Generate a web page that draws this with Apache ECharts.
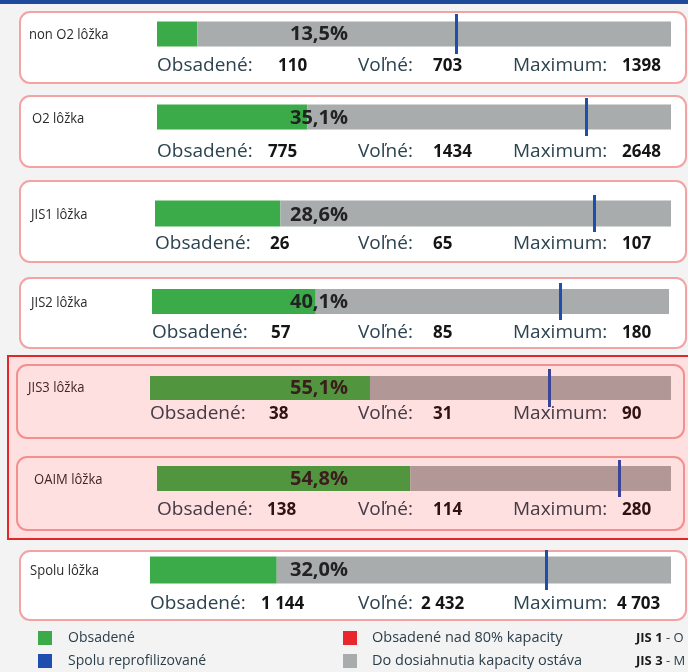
<!DOCTYPE html>
<html>
<head>
<meta charset="utf-8">
<script src="https://cdn.jsdelivr.net/npm/echarts@6/dist/echarts.min.js"></script>
<style>
  html, body { margin: 0; padding: 0; background: #f3f3f3; }
  #chart-container { width: 688px; height: 672px; }
</style>
</head>
<body>
<div id="chart-container"></div>
<script>
var dom = document.getElementById('chart-container');
var myChart = echarts.init(dom, null, { renderer: 'canvas' });

// data
var categories = ['non O2 lôžka', 'O2 lôžka', 'JIS1 lôžka', 'JIS2 lôžka', 'JIS3 lôžka', 'OAIM lôžka', 'Spolu lôžka'];
var occupied = [110, 775, 26, 57, 38, 138, 1144];
var free = [703, 1434, 65, 85, 31, 114, 2432];
var maximum = [1398, 2648, 107, 180, 90, 280, 4703];
var spacedDigits = [false, false, false, false, false, false, true];
var legendLeft = ['Obsadené', 'Spolu reprofilizované'];
var legendRight = ['Obsadené nad 80% kapacity', 'Do dosiahnutia kapacity ostáva'];
var noteLabels = ['JIS 1', 'JIS 3'];
var noteTexts = [' - O', ' - M'];

// layout of each panel: box top/bottom/left/right, bar left/right/top/bottom, marker top/bottom, label x, text row y
var layout = [
  { bt: 12, bb: 83, bx: 20, br: 686, l: 157, r: 671, t: 21, b: 46, mt: 14, mb: 54, lx: 29, ty: 66, nx: 278 },
  { bt: 96, bb: 167, bx: 20, br: 686, l: 157, r: 671, t: 105, b: 130, mt: 98, mb: 136, lx: 32, ty: 152, nx: 268 },
  { bt: 181, bb: 262, bx: 20, br: 686, l: 155, r: 671, t: 201, b: 227, mt: 195, mb: 232, lx: 31, ty: 244, nx: 270 },
  { bt: 278, bb: 348, bx: 20, br: 686, l: 152, r: 669, t: 289, b: 314, mt: 283, mb: 320, lx: 31, ty: 333, nx: 271 },
  { bt: 365, bb: 438, bx: 17, br: 684, l: 150, r: 671, t: 375, b: 399, mt: 369, mb: 407, lx: 28, ty: 414, nx: 269 },
  { bt: 457, bb: 530, bx: 17, br: 684, l: 157, r: 671, t: 466, b: 491, mt: 460, mb: 497, lx: 34, ty: 510, nx: 267 },
  { bt: 551, bb: 620, bx: 20, br: 686, l: 150, r: 671, t: 556, b: 583, mt: 550, mb: 590, lx: 30, ty: 604, nx: 261 }
];

var GREEN = '#3aab48';
var GRAY = '#a8acac';
var BLUE = '#1f4fae';
var FONT = 'Open Sans';

function fmt(v, spaced) {
  var s = String(v);
  if (spaced) s = s.replace(/\B(?=(\d{3})+(?!\d))/g, ' ');
  return s;
}

var grids = [], xAxes = [], yAxes = [], series = [], graphics = [];

graphics.push({ type: 'rect', shape: { x: 0, y: 0, width: 688, height: 4 }, style: { fill: '#1e4a9c' }, z: -5 });

categories.forEach(function (name, i) {
  var p = layout[i];
  var capacity = occupied[i] + free[i];
  grids.push({ left: p.l, top: p.mt, width: p.r - p.l, height: p.mb - p.mt });
  xAxes.push({ type: 'value', gridIndex: i, min: 0, max: maximum[i], show: false });
  yAxes.push({ type: 'category', gridIndex: i, data: [name], show: false });
  series.push({
    type: 'bar', xAxisIndex: i, yAxisIndex: i, stack: 's' + i,
    barWidth: p.b - p.t, itemStyle: { color: GREEN },
    data: [occupied[i]], silent: true
  });
  series.push({
    type: 'bar', xAxisIndex: i, yAxisIndex: i, stack: 's' + i,
    barWidth: p.b - p.t, itemStyle: { color: GRAY },
    data: [maximum[i] - occupied[i]], silent: true,
    markLine: {
      symbol: 'none', silent: true, animation: false,
      label: { show: false },
      lineStyle: { color: BLUE, width: 3, type: 'solid' },
      data: [{ xAxis: capacity }]
    }
  });

  // panel box
  graphics.push({
    type: 'rect', z: -1,
    shape: { x: p.bx, y: p.bt, width: p.br - p.bx, height: p.bb - p.bt, r: 10 },
    style: { fill: '#ffffff', stroke: '#f3a3a3', lineWidth: 2 }
  });
  // panel label
  graphics.push({
    type: 'text', x: p.lx, y: (p.t + p.b) / 2 + 1, z: 5, scaleX: 0.87,
    style: { text: name, font: '15px "' + FONT + '"', fill: '#2b2b2b', verticalAlign: 'middle' }
  });
  // percent of capacity occupied
  var pct = (occupied[i] / capacity * 100).toFixed(1).replace('.', ',') + '%';
  graphics.push({
    type: 'text', x: 319, y: (p.t + p.b) / 2 + 1, z: 5,
    style: { text: pct, font: 'bold 20px "' + FONT + '"', fill: '#222', align: 'center', verticalAlign: 'middle' }
  });
  // values row
  var row = [
    ['Obsadené:', p.l, fmt(occupied[i], spacedDigits[i]), p.nx],
    ['Voľné:', 358, fmt(free[i], spacedDigits[i]), spacedDigits[i] ? 421 : 433],
    ['Maximum:', 513, fmt(maximum[i], spacedDigits[i]), spacedDigits[i] ? 617 : 622]
  ];
  row.forEach(function (c) {
    graphics.push({
      type: 'text', x: c[1], y: p.ty, z: 5,
      style: { text: c[0], font: '19px "' + FONT + '"', fill: '#2c4350', verticalAlign: 'middle' }
    });
    graphics.push({
      type: 'text', x: c[3], y: p.ty, z: 5,
      style: { text: c[2], font: 'bold 17px "' + FONT + '"', fill: '#151515', verticalAlign: 'middle' }
    });
  });
});

// red highlight box around JIS3 and OAIM
graphics.push({
  type: 'rect', z: -3,
  shape: { x: 8, y: 356, width: 682, height: 183 },
  style: { fill: '#ffffff' }
});
graphics.push({
  type: 'rect', z: 50, silent: true,
  shape: { x: 8, y: 356, width: 682, height: 183 },
  style: { fill: 'rgba(255,0,0,0.12)', stroke: '#e2262a', lineWidth: 2 }
});

// legend
var legendColors = [GREEN, BLUE];
var legendColors2 = ['#e8262b', GRAY];
[0, 1].forEach(function (k) {
  var y = 638 + k * 23;
  graphics.push({ type: 'rect', shape: { x: 38, y: y - 7, width: 14, height: 14 }, style: { fill: legendColors[k] } });
  graphics.push({ type: 'text', x: 68, y: y, style: { text: legendLeft[k], font: '14px "' + FONT + '"', fill: '#2b3e4a', verticalAlign: 'middle' } });
  graphics.push({ type: 'rect', shape: { x: 343, y: y - 7, width: 14, height: 14 }, style: { fill: legendColors2[k] } });
  graphics.push({ type: 'text', x: 372, y: y, style: { text: legendRight[k], font: '14.5px "' + FONT + '"', fill: '#2b3e4a', verticalAlign: 'middle' } });
  graphics.push({
    type: 'text', x: 636, y: y,
    style: {
      text: '{b|' + noteLabels[k] + '}{n|' + noteTexts[k] + '}', verticalAlign: 'middle',
      rich: {
        b: { font: 'bold 13px "' + FONT + '"', fill: '#1a1a1a' },
        n: { font: '13px "' + FONT + '"', fill: '#2b3e4a' }
      }
    }
  });
});

var option = {
  backgroundColor: '#f3f3f3',
  animation: false,
  grid: grids,
  xAxis: xAxes,
  yAxis: yAxes,
  series: series,
  graphic: graphics
};

myChart.setOption(option);
window.addEventListener('resize', myChart.resize);
</script>
</body>
</html>
